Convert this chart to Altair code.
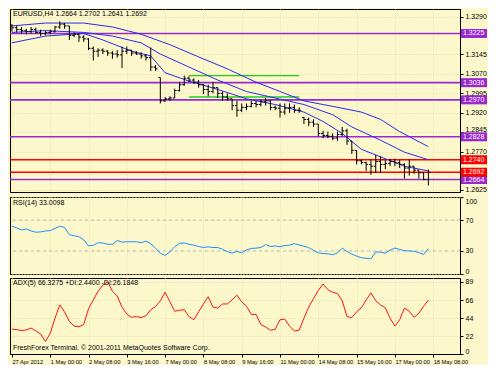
import altair as alt
import pandas as pd

# ---------------- data ----------------
opens = [1.3254,1.3247,1.3240,1.3236,1.3232,1.3240,1.3229,1.3225,1.3229,1.3232,
 1.3250,1.3261,1.3254,1.3218,1.3222,1.3211,1.3204,1.3168,1.3157,1.3161,
 1.3157,1.3150,1.3146,1.3143,1.3157,1.3161,1.3150,1.3146,1.3139,1.3132,
 1.3096,1.3056,1.2966,1.2974,1.2977,1.3006,1.3028,1.3053,1.3046,1.3038,
 1.3028,1.3010,1.3002,1.3017,1.2995,1.2981,1.2974,1.2948,1.2930,1.2941,
 1.2945,1.2956,1.2952,1.2963,1.2966,1.2941,1.2938,1.2923,1.2938,1.2941,
 1.2930,1.2902,1.2895,1.2884,1.2877,1.2841,1.2833,1.2830,1.2823,1.2837,
 1.2851,1.2812,1.2776,1.2736,1.2729,1.2722,1.2715,1.2733,1.2722,1.2726,
 1.2733,1.2729,1.2722,1.2708,1.2715,1.2700,1.2690,1.2664]
highs = [1.3261,1.3254,1.3250,1.3243,1.3250,1.3247,1.3240,1.3236,1.3240,1.3254,
 1.3272,1.3265,1.3254,1.3229,1.3225,1.3218,1.3207,1.3175,1.3168,1.3168,
 1.3161,1.3157,1.3161,1.3175,1.3175,1.3161,1.3157,1.3153,1.3146,1.3171,
 1.3103,1.3056,1.2981,1.2984,1.3013,1.3038,1.3063,1.3060,1.3053,1.3046,
 1.3031,1.3028,1.3038,1.3017,1.3002,1.2995,1.2974,1.2966,1.2956,1.2956,
 1.2966,1.2966,1.2970,1.2977,1.2970,1.2948,1.2956,1.2956,1.2956,1.2952,
 1.2941,1.2905,1.2902,1.2895,1.2877,1.2851,1.2848,1.2841,1.2848,1.2866,
 1.2859,1.2812,1.2776,1.2740,1.2733,1.2740,1.2758,1.2754,1.2740,1.2744,
 1.2744,1.2740,1.2726,1.2740,1.2715,1.2700,1.2690,1.2702]
lows = [1.3232,1.3229,1.3225,1.3222,1.3225,1.3225,1.3215,1.3218,1.3222,1.3229,
 1.3243,1.3243,1.3200,1.3211,1.3193,1.3193,1.3161,1.3121,1.3135,1.3146,
 1.3139,1.3128,1.3132,1.3092,1.3146,1.3139,1.3143,1.3128,1.3121,1.3081,
 1.3081,1.2956,1.2963,1.2966,1.2977,1.3002,1.3024,1.3038,1.3031,1.3017,
 1.2992,1.2984,1.2995,1.2977,1.2966,1.2966,1.2930,1.2905,1.2923,1.2930,
 1.2941,1.2941,1.2945,1.2948,1.2930,1.2930,1.2902,1.2913,1.2920,1.2920,
 1.2920,1.2877,1.2869,1.2866,1.2830,1.2823,1.2823,1.2815,1.2812,1.2830,
 1.2797,1.2762,1.2722,1.2722,1.2697,1.2682,1.2690,1.2690,1.2704,1.2715,
 1.2715,1.2708,1.2668,1.2679,1.2686,1.2668,1.2661,1.2641]
closes = [1.3247,1.3240,1.3236,1.3232,1.3240,1.3229,1.3225,1.3229,1.3232,1.3250,
 1.3261,1.3254,1.3218,1.3222,1.3211,1.3204,1.3168,1.3157,1.3161,1.3157,
 1.3150,1.3146,1.3143,1.3157,1.3161,1.3150,1.3146,1.3139,1.3132,1.3096,
 1.3089,1.2966,1.2974,1.2977,1.3006,1.3028,1.3053,1.3046,1.3038,1.3028,
 1.3010,1.3002,1.3017,1.2995,1.2981,1.2974,1.2948,1.2930,1.2941,1.2945,
 1.2956,1.2952,1.2963,1.2966,1.2941,1.2938,1.2923,1.2938,1.2941,1.2930,
 1.2930,1.2895,1.2884,1.2877,1.2841,1.2833,1.2830,1.2823,1.2837,1.2851,
 1.2812,1.2776,1.2736,1.2729,1.2722,1.2715,1.2733,1.2722,1.2726,1.2733,
 1.2729,1.2722,1.2708,1.2715,1.2700,1.2690,1.2664,1.2692]

# three moving-average lines (bar index, value)
ma_up_i = [0,7,15,21,27,33,39,45,51,57,61,67,73,77,81,87]
ma_up_v = [1.3254,1.3265,1.3265,1.3250,1.3222,1.3182,1.3135,1.3089,1.3038,1.2995,
           1.2966,1.2945,1.2923,1.2895,1.2848,1.2790]
ma_mid_i = [0,7,15,21,27,31,37,43,49,55,61,67,71,77,82,87]
ma_mid_v = [1.3229,1.3236,1.3229,1.3215,1.3189,1.3146,1.3096,1.3046,1.3002,1.2977,
            1.2952,1.2913,1.2866,1.2815,1.2769,1.2740]
ma_low_i = [0,7,15,19,25,29,32,37,43,49,55,61,65,69,73,77,82,87]
ma_low_v = [1.3189,1.3215,1.3225,1.3200,1.3157,1.3139,1.3074,1.3042,1.3010,1.2974,
            1.2952,1.2923,1.2887,1.2841,1.2780,1.2751,1.2715,1.2697]

purple_levels = [1.3225, 1.3036, 1.2970, 1.2828, 1.2664]
red_levels = [1.2740, 1.2692]
green_levels = [1.3063, 1.2981]
green_from, green_to = 37, 60

# visible price-scale labels (1.3215 and 1.2695 are hidden under level boxes in the reference)
price_ticks = [1.3290, 1.3145, 1.3070, 1.2995, 1.2920, 1.2845, 1.2770, 1.2625]

rsi = [62.1,60.0,57.2,58.5,55.9,54.3,54.7,55.9,56.3,59.2,
 62.1,60.5,51.0,49.7,48.5,44.4,36.5,37.3,40.6,40.2,
 38.6,38.6,43.6,41.5,41.9,41.9,41.9,40.6,42.7,39.4,
 33.6,27.0,24.1,28.7,35.3,39.9,40.2,38.6,37.4,35.7,
 34.4,35.3,34.4,34.4,32.0,29.1,27.0,29.5,27.4,31.2,
 33.2,33.6,34.4,38.2,35.7,36.5,35.3,37.0,37.4,39.4,
 37.8,36.1,34.4,30.7,27.4,26.6,26.2,25.0,27.4,33.6,
 29.1,25.8,23.3,21.2,20.4,19.6,28.7,28.3,27.0,31.2,
 33.6,32.0,30.3,29.9,29.5,27.8,25.4,33.0]
rsi_levels = [30, 70]

adx = [30.8,30.0,28.9,29.7,32.0,28.5,24.6,15.5,25.4,44.1,
 60.5,51.9,40.2,34.4,33.6,36.3,55.8,66.7,77.3,85.1,
 89.0,77.3,71.4,57.8,49.2,45.3,46.1,44.9,47.2,54.6,
 58.5,65.6,76.1,64.4,52.7,53.9,54.6,46.1,42.2,51.9,
 61.7,70.6,57.8,56.6,61.7,61.7,66.7,72.6,64.4,58.9,
 48.8,48.8,36.3,33.2,29.3,30.4,42.2,43.0,34.4,28.5,
 29.3,44.1,57.8,68.3,78.5,86.3,79.2,76.1,74.6,65.6,
 46.1,44.9,51.9,57.0,66.7,75.3,65.6,60.5,57.0,44.1,
 34.4,42.2,56.6,52.7,45.3,50.0,58.9,66.3]

x_tick_bars = [0, 8, 16, 24, 32, 40, 48, 56, 64, 72, 80, 88]
x_labels = ["27 Apr 2012", "1 May 00:00", "2 May 08:00", "3 May 16:00", "7 May 00:00",
            "8 May 08:00", "9 May 16:00", "11 May 00:00", "14 May 08:00",
            "15 May 16:00", "17 May 00:00", "18 May 08:00"]

main_label = "EURUSD,H4  1.2664 1.2702 1.2641 1.2692"
rsi_label = "RSI(14) 33.0098"
adx_label = "ADX(5) 66.3275 +DI:2.4400 -DI:26.1848"
copy_label = "FreshForex Terminal. \u00a9 2001-2011 MetaQuotes Software Corp."

# ---------------- styling ----------------
W = 450
H1, H2, H3 = 183, 77, 76
BG = "#FCF8CC"
FONT = "Liberation Sans"
FS = 7
XFS = 5.7
PURPLE = "#9A28D0"
RED = "#FF0000"
GREEN = "#22CC22"
BLUE = "#2A2AF0"
GRID = "#E4DEB0"

xscale = alt.Scale(domain=[-0.4, 93.6], nice=False, zero=False)
xgrid_axis = alt.Axis(values=x_tick_bars, labels=False, ticks=False, domain=False,
                      grid=True, gridColor=GRID, gridDash=[1, 2], title=None)
label_expr = "[" + ",".join("'" + s + "'" for s in x_labels) + "][round(datum.value/8)]"
xbottom_axis = alt.Axis(values=x_tick_bars, labelExpr=label_expr, labelAlign="left",
                        labelPadding=1, labelFontSize=XFS, labelFont=FONT, labelColor="black",
                        tickSize=3, tickColor="black", domainColor="black",
                        labelFlush=False, labelOverlap=False, labelBound=False,
                        grid=True, gridColor=GRID, gridDash=[1, 2], title=None)


def xg(field="i", axis=xgrid_axis):
    return alt.X(f"{field}:Q", scale=xscale, axis=axis)


def make_yaxis(values, fmt=None, flush=False, baseline=None):
    kw = dict(orient="right", values=values, title=None, tickSize=3, labelPadding=2,
              labelFontSize=FS, labelFont=FONT, labelColor="black", tickColor="black",
              domainColor="black", grid=True, gridColor=GRID, gridDash=[1, 2],
              labelOverlap=False, labelFlush=flush)
    if fmt:
        kw["format"] = fmt
    if baseline:
        kw["labelBaseline"] = baseline
    return alt.Axis(**kw)


yscale1 = alt.Scale(domain=[1.2616, 1.3319], nice=False, zero=False)
# lift the 1.2845 label above the 1.2828 level box so the two stay readable
yaxis1 = make_yaxis(price_ticks, ".4f", baseline={
    "condition": {"test": "abs(datum.value - 1.2845) < 0.00001", "value": "bottom"},
    "value": "middle"})


def y1(f):
    return alt.Y(f"{f}:Q", scale=yscale1, axis=yaxis1)


# ---------------- main price panel ----------------
bars = pd.DataFrame({"i": list(range(len(closes))), "o": opens, "h": highs,
                     "l": lows, "c": closes})
ma = pd.DataFrame({
    "i": ma_up_i + ma_mid_i + ma_low_i,
    "v": ma_up_v + ma_mid_v + ma_low_v,
    "s": ["up"] * len(ma_up_i) + ["mid"] * len(ma_mid_i) + ["low"] * len(ma_low_i),
})
levels = pd.DataFrame({"p": purple_levels + red_levels,
                       "k": ["purple"] * len(purple_levels) + ["red"] * len(red_levels)})
greens = pd.DataFrame({"p": green_levels, "a": [green_from] * 2, "b": [green_to] * 2})
lvl_color = alt.Color("k:N", scale=alt.Scale(domain=["purple", "red"], range=[PURPLE, RED]),
                      legend=None)

base_bars = alt.Chart(bars)
hl = base_bars.mark_rule(color="black", strokeWidth=1).encode(x=xg(), y=y1("l"), y2="h:Q")
otick = base_bars.mark_tick(orient="horizontal", size=2, thickness=1, xOffset=-1,
                            color="black", opacity=1).encode(x=xg(), y=y1("o"))
ctick = base_bars.mark_tick(orient="horizontal", size=2, thickness=1, xOffset=1,
                            color="black", opacity=1).encode(x=xg(), y=y1("c"))

lvl_rules = alt.Chart(levels).mark_rule(strokeWidth=1.6).encode(y=y1("p"), color=lvl_color)
green_rules = alt.Chart(greens).mark_rule(color=GREEN, strokeWidth=1.4).encode(
    x=xg("a"), x2="b:Q", y=y1("p"))
ma_lines = alt.Chart(ma).mark_line(color=BLUE, strokeWidth=1).encode(
    x=xg(), y=y1("v"), detail="s:N")
boxes = alt.Chart(levels).mark_rect(yOffset=-4.5, y2Offset=4.5).encode(
    x=alt.value(W + 1), x2=alt.value(W + 27), y=y1("p"), y2="p:Q", color=lvl_color)
box_text = alt.Chart(levels).mark_text(align="left", baseline="middle", color="white",
                                       fontSize=FS, font=FONT).encode(
    x=alt.value(W + 3), y=y1("p"), text=alt.Text("p:Q", format=".4f"))
main_title = alt.Chart(pd.DataFrame({"t": [main_label]})).mark_text(
    align="left", baseline="middle", fontSize=FS, font=FONT, color="black").encode(
    x=alt.value(3), y=alt.value(5), text="t:N")

main = alt.layer(lvl_rules, green_rules, ma_lines, hl, otick, ctick, boxes, box_text,
                 main_title).properties(width=W, height=H1)

# ---------------- RSI panel ----------------
yscale2 = alt.Scale(domain=[0, 100], nice=False, zero=False)
yaxis2 = make_yaxis([0, 30, 70, 100], flush=True)
rsi_df = pd.DataFrame({"i": list(range(len(rsi))), "v": rsi})
rsi_lv = pd.DataFrame({"v": rsi_levels})
rsi_rules = alt.Chart(rsi_lv).mark_rule(color="#BDBDBD", strokeDash=[3, 3], strokeWidth=1).encode(
    y=alt.Y("v:Q", scale=yscale2, axis=yaxis2))
rsi_line = alt.Chart(rsi_df).mark_line(color="#1E8FFF", strokeWidth=1).encode(
    x=xg(), y=alt.Y("v:Q", scale=yscale2, axis=yaxis2))
rsi_title = alt.Chart(pd.DataFrame({"t": [rsi_label]})).mark_text(
    align="left", baseline="middle", fontSize=FS, font=FONT, color="black").encode(
    x=alt.value(3), y=alt.value(6), text="t:N")
rsi_chart = alt.layer(rsi_rules, rsi_line, rsi_title).properties(width=W, height=H2)

# ---------------- ADX panel ----------------
yscale3 = alt.Scale(domain=[0, 93.7], nice=False, zero=False)
yaxis3 = make_yaxis([0, 22, 44, 66, 89], flush=True)
adx_df = pd.DataFrame({"i": list(range(len(adx))), "v": adx})
adx_line = alt.Chart(adx_df).mark_line(color="#FF1010", strokeWidth=1).encode(
    x=xg(axis=xbottom_axis), y=alt.Y("v:Q", scale=yscale3, axis=yaxis3))
adx_title = alt.Chart(pd.DataFrame({"t": [adx_label]})).mark_text(
    align="left", baseline="middle", fontSize=FS, font=FONT, color="black").encode(
    x=alt.value(3), y=alt.value(5), text="t:N")
copy_text = alt.Chart(pd.DataFrame({"t": [copy_label]})).mark_text(
    align="left", baseline="middle", fontSize=FS, font=FONT, color="black").encode(
    x=alt.value(3), y=alt.value(H3 - 6), text="t:N")
adx_chart = alt.layer(adx_line, adx_title, copy_text).properties(width=W, height=H3)

chart = alt.vconcat(main, rsi_chart, adx_chart, spacing=2).properties(
    background=BG, padding=0
).configure_view(stroke="black", strokeWidth=1)

chart.save("out.html", embed_options={"renderer": "svg", "actions": False})
